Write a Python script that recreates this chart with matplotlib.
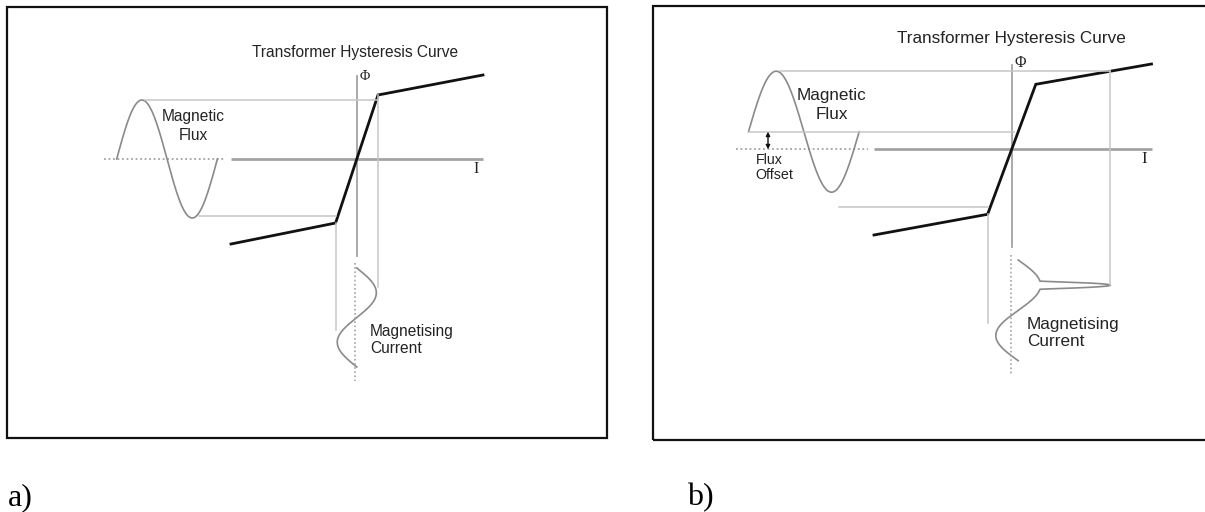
import numpy as np
import matplotlib.pyplot as plt
from matplotlib.patches import Rectangle

W, H = 1205, 512
plt.rcParams['font.family'] = ['Liberation Sans', 'DejaVu Sans']

# piecewise-linear magnetising characteristic (current, flux) of each sketch
curve_a_current = [-125.5, -20.9, 21.5, 126.5]
curve_a_flux = [-85, -64, 64, 84]
curve_b_current = [-138, -24.4, 23.8, 139.5]
curve_b_flux = [-85.7, -65, 65, 85.3]

# applied flux: amplitude, dc offset
flux_amp = [59, 60.5]
flux_offset = [0, 17.6]

# where the waveforms sit in each sketch (start and period along their time axis)
flux_start = [-239.8, -263.5]
flux_period = [100.7, 110.7]
current_start = [-109, -110.7]
current_period = [99, 100.7]

# the saturation spike is drawn squeezed in time so it reads as a narrow pulse
spike_squeeze = 2.7

origin_x = [356.5, 1012]
origin_y = [159, 149.3]
font_pt = [11.2, 12.3]

WAVE = '#8a8a8a'
GUIDE = '#c6c6c6'
AXIS = '#a3a3a3'
INK = '#232323'


def panel_axes(fig, ox, oy):
    ax = fig.add_axes([0, 0, 1, 1])
    ax.set_xlim(-ox, W - ox)
    ax.set_ylim(oy - H, oy)
    ax.axis('off')
    ax.patch.set_alpha(0)
    return ax


def magnetising_current(t, amp, off, cur, flx):
    """Current drawn by the core for a flux sin wave, through the curve."""
    flux = off + amp * np.sin(2 * np.pi * t)
    slope = (cur[2] - cur[1]) / (flx[2] - flx[1])
    mid = (cur[1] + cur[2]) / 2
    linear = mid + slope * flux
    # extra current once the core saturates, narrowed around the flux peak
    ts = 0.25 + spike_squeeze * (t - 0.25)
    fs = off + amp * np.sin(2 * np.pi * ts)
    extra = np.interp(fs, flx, cur) - (mid + slope * fs)
    extra = np.where((np.abs(ts - 0.25) < 0.25) & (fs > flx[2]), extra, 0)
    return linear + extra


def draw_panel(ax, k, cur, flx, box, title_y, lower_guide, offset_text=False):
    fs = font_pt[k]
    amp, off = flux_amp[k], flux_offset[k]
    x0, per = flux_start[k], flux_period[k]

    # frame
    bx, by, bw, bh = box
    ax.add_patch(Rectangle((bx, by), bw, bh, fill=False, ec='#111111', lw=1.6, clip_on=False))

    # axes of the characteristic
    ax.plot([cur[0], cur[-1]], [0, 0], color=AXIS, lw=2.0, solid_capstyle='butt')
    ax.plot([x0 - 13, cur[0] - 6], [0, 0], color=AXIS, lw=1.3, ls=(0, (1, 1.5)))
    ax.plot([0, 0], [flx[-1] - 1, flx[0] - 12], color=AXIS, lw=1.3)
    ax.text(cur[-1] - 7, -10, 'I', family='Liberation Serif', fontsize=fs, color=INK,
            ha='center', va='center')
    ax.text(8, flx[-1] - 2 + (3 if k else 0), 'Φ', family='Liberation Serif', fontsize=fs - 1,
            color=INK, ha='center', va='center')

    # magnetising characteristic
    ax.plot(cur, flx, color='#111111', lw=2.0, solid_joinstyle='miter')

    # flux waveform
    t = np.linspace(0, 1, 800)
    fx = x0 + t * per
    fy = off + amp * np.sin(2 * np.pi * t)
    ax.plot(fx, fy, color=WAVE, lw=1.2)
    peak_x = x0 + per / 4

    # magnetising current, read through the characteristic
    ci = magnetising_current(t, amp, off, cur, flx)
    cy = current_start[k] - t * current_period[k]
    ax.plot(ci, cy, color=WAVE, lw=1.2)
    i_peak = np.interp(off + amp, flx, cur)
    spike_y = current_start[k] - current_period[k] / 4
    ax.plot([-1.5, -1.5], [current_start[k] + 5, current_start[k] - current_period[k] - 14],
            color=AXIS, lw=1.2, ls=(0, (1, 1.5)))

    # projection guides
    if k == 0:
        ax.plot([peak_x + 3, cur[2]], [off + amp, off + amp], color=GUIDE, lw=1.1)
        ax.plot([cur[2], cur[2]], [flx[2], -128], color=GUIDE, lw=1.1)
    else:
        ax.plot([peak_x + 4, i_peak], [off + amp, off + amp], color=GUIDE, lw=1.1)
        ax.plot([i_peak, i_peak], [off + amp, spike_y], color=GUIDE, lw=1.1)
        ax.plot([x0, 2], [off, off], color=GUIDE, lw=1.1)
    ax.plot([lower_guide[0], cur[1]], [lower_guide[1], lower_guide[1]], color=GUIDE, lw=1.1)
    ax.plot([cur[1], cur[1]], [flx[1], lower_guide[2]], color=GUIDE, lw=1.1)

    # labels
    ax.text(-1, title_y, 'Transformer Hysteresis Curve', fontsize=fs, color=INK,
            ha='center', va='center')
    mf = (-163.5, 32.7) if k == 0 else (-180, 44.3)
    ax.text(mf[0], mf[1], 'Magnetic\nFlux', fontsize=fs, color=INK, ha='center',
            va='center', linespacing=1.3)
    mc = (13.5, -181) if k == 0 else (14.7, -183.5)
    ax.text(mc[0], mc[1], 'Magnetising\nCurrent', fontsize=fs, color=INK, ha='left',
            va='center', linespacing=1.2)

    if offset_text:
        ax.annotate('', xy=(-244, 0), xytext=(-244, off),
                    arrowprops=dict(arrowstyle='<|-|>', color='#111111', lw=1.0,
                                    mutation_scale=6, shrinkA=0, shrinkB=0))
        ax.text(-256.6, -18.4, 'Flux\nOffset', fontsize=fs - 2, color=INK, ha='left',
                va='center', linespacing=1.05)


fig = plt.figure(figsize=(W / 100, H / 100), dpi=100)
ax_a = panel_axes(fig, origin_x[0], origin_y[0])
ax_b = panel_axes(fig, origin_x[1], origin_y[1])

draw_panel(ax_a, 0, curve_a_current, curve_a_flux, (-349.5, -279, 600, 431), 106,
           (-157.5, -56.7, -171))
draw_panel(ax_b, 1, curve_b_current, curve_b_flux, (-359, -290.7, 560, 434), 111.3,
           (-173, -58, -173.7), offset_text=True)

fig.text(8 / W, 1 - 505 / H, 'a)', family='Liberation Serif', fontsize=23, ha='left', va='baseline')
fig.text(687 / W, 1 - 505 / H, 'b)', family='Liberation Serif', fontsize=23, ha='left', va='baseline')

fig.savefig('out.png', dpi=100)
